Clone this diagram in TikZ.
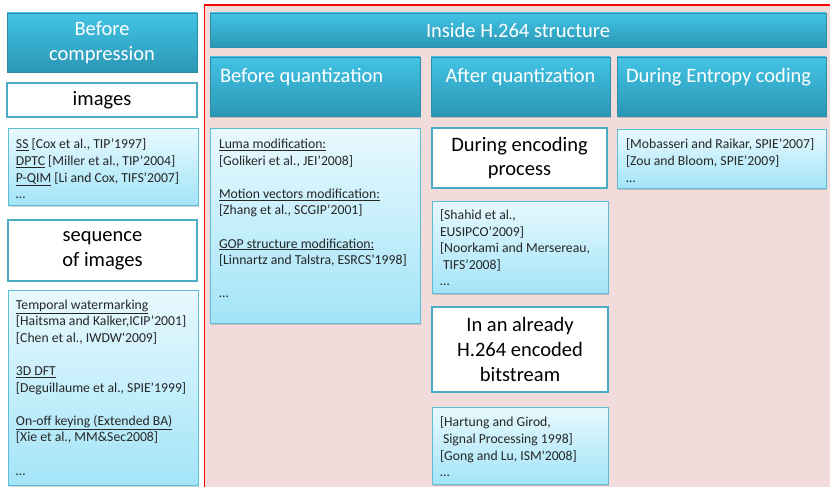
\documentclass[tikz,border=0pt]{standalone}
\usepackage{fontspec}
\setmainfont{Carlito}
\usetikzlibrary{shadows,calc}
\definecolor{hdrtop}{HTML}{43C3E5}
\definecolor{hdrbot}{HTML}{2A97B4}
\definecolor{hdrline}{HTML}{2E8DA8}
\definecolor{reftop}{HTML}{E8F9FE}
\definecolor{refbot}{HTML}{A3E4F8}
\definecolor{refline}{HTML}{5FBCD6}
\definecolor{wline}{HTML}{4BACC6}
\definecolor{pinkbg}{HTML}{F2DBDB}
\definecolor{redframe}{HTML}{FF0000}
\newcommand\hfont{\fontsize{20.5}{24.8}\selectfont}
\newcommand\rfont{\fontsize{13.7}{16.6}\selectfont}
\begin{document}
\begin{tikzpicture}[x=1pt,y=-1pt,
  every node/.style={inner sep=0pt, outer sep=0pt},
  shad/.style={drop shadow={shadow xshift=1pt,shadow yshift=-1.5pt,opacity=0.35}},
  hdr/.style={draw=hdrline, line width=0.6pt, top color=hdrtop, bottom color=hdrbot, shad, anchor=north west, text=white, font=\hfont, align=center},
  wbox/.style={draw=wline, line width=1.6pt, fill=white, anchor=north west, text=black, font=\hfont, align=center},
  rbox/.style={draw=refline, line width=0.8pt, top color=reftop, bottom color=refbot, shad, anchor=north west},
  htxt/.style={text=white, font=\hfont},
  rtxt/.style={text=black!85, font=\rfont, align=left, anchor=north west}
]
\useasboundingbox (0,0) rectangle (830,487);
\fill[white] (0,0) rectangle (830,487);

% red frame
\node[draw=redframe, line width=1.8pt, fill=pinkbg, anchor=north west, minimum width=660, minimum height=520] (frame) at (204.5,5) {};

% left column
\node[hdr, minimum width=190, minimum height=59] (bc) at (7,13) {Before\\compression};
\node[wbox, minimum width=190, minimum height=34] (img) at (7,83) {images};
\node[rbox, minimum width=190, minimum height=77] (ss) at (8,128) {};
\node[rtxt] (sst) at ($(ss.north west)+(8,11)$) {\underline{SS} [Cox et al., TIP’1997]\\\underline{DPTC} [Miller et al., TIP’2004]\\\underline{P-QIM} [Li and Cox, TIFS’2007]\\…};
\node[wbox, minimum width=189, minimum height=61] (seq) at (8,220) {sequence\\of images};
\node[rbox, minimum width=190, minimum height=195] (tw) at (8,290) {};
\node[rtxt] (twt) at ($(tw.north west)+(8,9.5)$) {\underline{Temporal watermarking}\\{}[Haitsma and Kalker,ICIP’2001]\\{}[Chen et al., IWDW\textquotesingle2009]\\~\\\underline{3D DFT}\\{}[Deguillaume et al., SPIE’1999]\\~\\\underline{On-off keying (Extended BA)}\\{}[Xie et al., MM\&Sec2008]\\~\\…};

% H.264 structure
\node[hdr, minimum width=616, minimum height=34] (h264) at (210,13) {Inside H.264 structure};
\node[hdr, minimum width=210, minimum height=59] (bq) at (210,57) {};
\node[htxt, anchor=base west] (bqt) at (220,82) {Before quantization};
\node[hdr, minimum width=179, minimum height=59] (aq) at (431,57) {};
\node[htxt, anchor=base] (aqt) at (520.5,82) {After quantization};
\node[hdr, minimum width=209, minimum height=59] (ec) at (617,57) {};
\node[htxt, anchor=base west] (ect) at (626,82) {During Entropy coding};

\node[rbox, minimum width=210, minimum height=195] (luma) at (210,128) {};
\node[rtxt] (lumat) at ($(luma.north west)+(9,11)$) {\underline{Luma modification:}\\{}[Golikeri et al., JEI’2008]\\~\\\underline{Motion vectors modification:}\\{}[Zhang et al., SCGIP’2001]\\~\\\underline{GOP structure modification:}\\{}[Linnartz and Talstra, ESRCS’1998]\\~\\…};

\node[wbox, minimum width=175, minimum height=60] (de) at (432,128) {During encoding\\process};
\node[rbox, minimum width=176, minimum height=92] (sh) at (432,201) {};
\node[rtxt] (sht) at ($(sh.north west)+(8,8.5)$) {[Shahid et al.,\\EUSIPCO’2009]\\{}[Noorkami and Mersereau,\\\hspace{3pt}TIFS’2008]\\…};
\node[wbox, minimum width=176, minimum height=85] (al) at (432,307) {In an already\\H.264 encoded\\bitstream};
\node[rbox, minimum width=176, minimum height=77] (ha) at (432,407) {};
\node[rtxt] (hat) at ($(ha.north west)+(8,10)$) {[Hartung and Girod,\\\hspace{3pt}Signal Processing 1998]\\{}[Gong and Lu, ISM\textquotesingle2008]\\…};

\node[rbox, minimum width=209, minimum height=59] (mo) at (617,129) {};
\node[rtxt] (mot) at ($(mo.north west)+(9,10)$) {[Mobasseri and Raikar, SPIE’2007]\\{}[Zou and Bloom, SPIE’2009]\\…};
\end{tikzpicture}
\end{document}
